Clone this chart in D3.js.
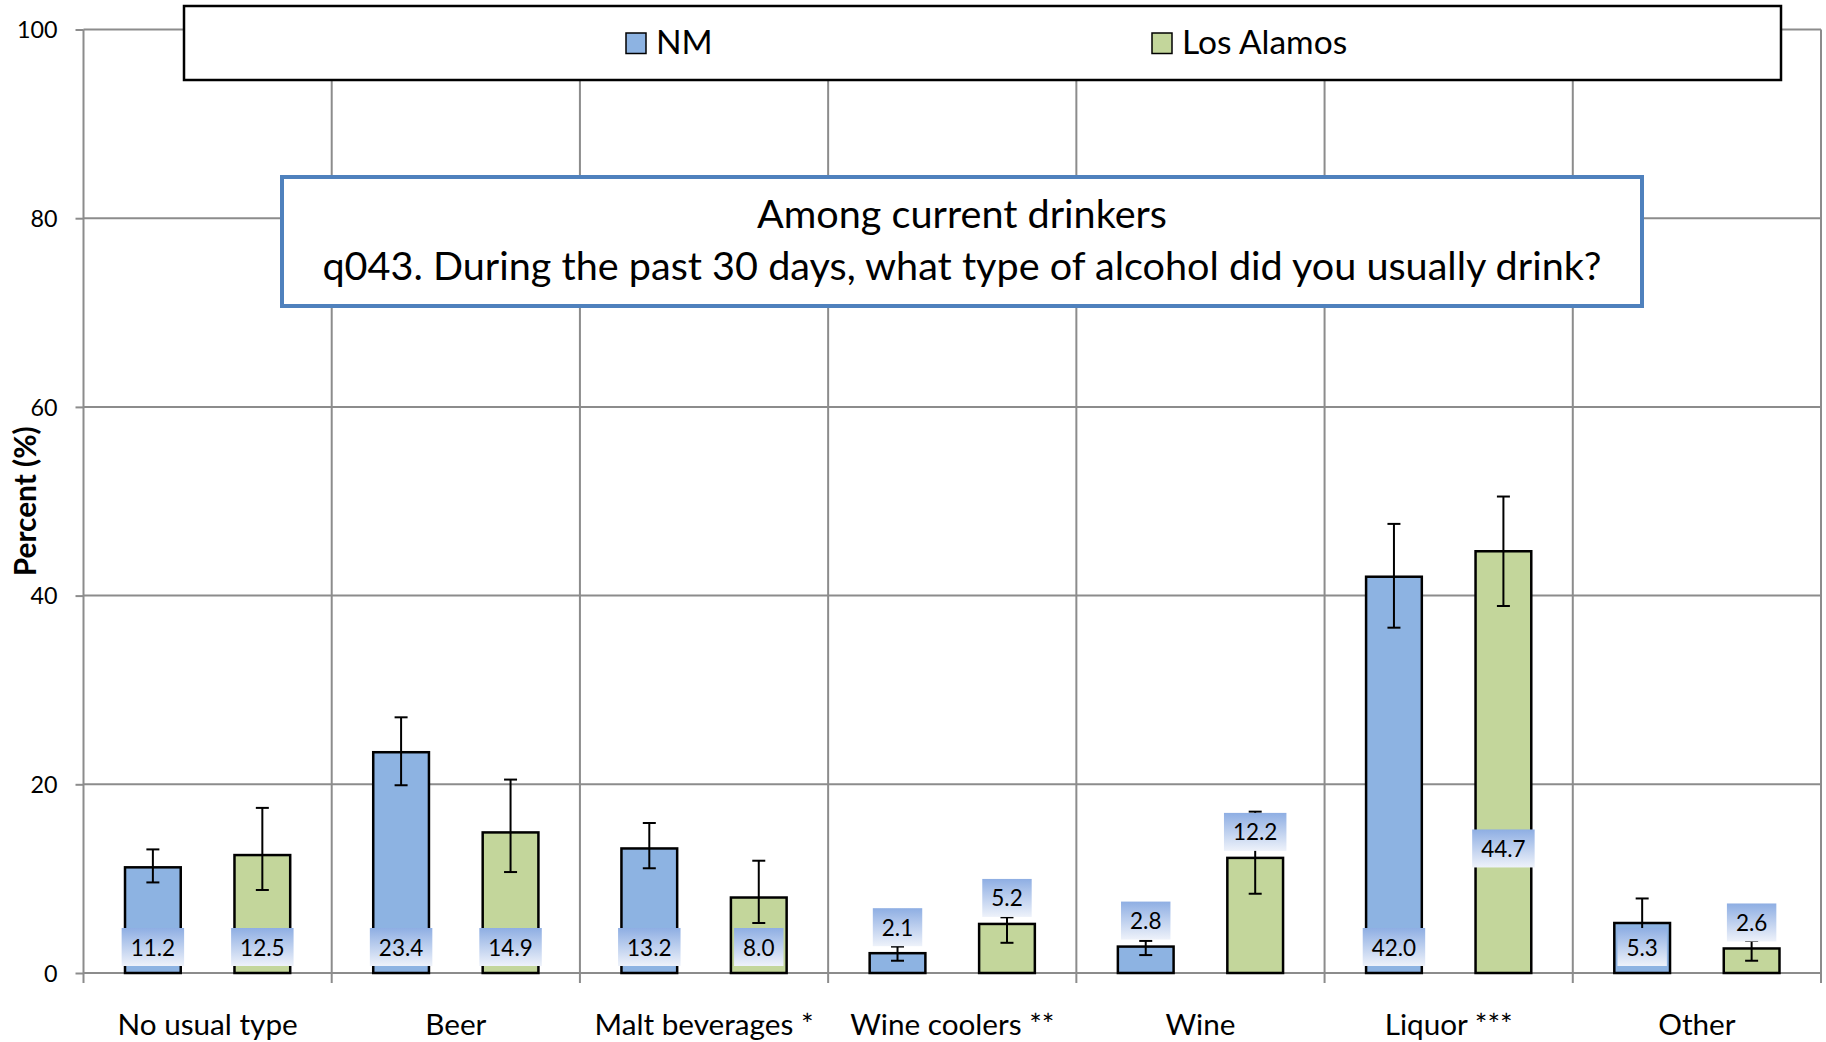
<!DOCTYPE html>
<html>
<head>
<meta charset="utf-8">
<script src="https://cdn.jsdelivr.net/npm/d3@7"></script>
<style>
  html, body { margin: 0; padding: 0; background: #ffffff; }
  svg { display: block; }
  text { font-family: Lato, "Open Sans", "Noto Sans", sans-serif; fill: #000; }
</style>
</head>
<body>
<svg id="chart" width="1826" height="1042"></svg>
<script>
// ---------------- data ----------------
const categories = ["No usual type", "Beer", "Malt beverages *", "Wine coolers **", "Wine", "Liquor ***", "Other"];
const seriesNames = ["NM", "Los Alamos"];
const nmValues = [11.2, 23.4, 13.2, 2.1, 2.8, 42.0, 5.3];
const laValues = [12.5, 14.9, 8.0, 5.2, 12.2, 44.7, 2.6];
const nmLower  = [9.6, 19.9, 11.1, 1.3, 1.9, 36.6, 2.7];
const nmUpper  = [13.1, 27.1, 15.9, 2.8, 3.4, 47.6, 7.9];
const laLower  = [8.8, 10.7, 5.3, 3.2, 8.4, 38.9, 1.3];
const laUpper  = [17.5, 20.5, 11.9, 5.9, 17.1, 50.5, 3.4];
const yTicks = [0, 20, 40, 60, 80, 100];
// label placement: "base" (inside base), "above" (outside end) or a value to centre on
const nmLabelPos = ["base", "base", "base", "above", "above", "base", "base"];
const laLabelPos = ["base", "base", "base", "above", "above", 13.2, "above"];
const titleLines = ["Among current drinkers", "q043. During the past 30 days, what type of alcohol did you usually drink?"];
const yTitle = "Percent (%)";

// ---------------- layout / style ----------------
const W = 1826, H = 1042;
const plot = { left: 83.5, right: 1821, top: 29.5, bottom: 973 };
const colors = { NM: "#8db3e2", LA: "#c3d69b" };
const gridColor = "#8c8c8c";

const svg = d3.select("#chart");

const x = d3.scaleBand().domain(categories).range([plot.left, plot.right]).paddingInner(0).paddingOuter(0);
const y = d3.scaleLinear().domain([0, 100]).range([plot.bottom, plot.top]);
const bw = x.bandwidth();
const barW = bw * 0.2245;
const series = [
  { key: "NM", values: nmValues, lo: nmLower, hi: nmUpper, pos: nmLabelPos, center: 0.2795, color: colors.NM },
  { key: "LA", values: laValues, lo: laLower, hi: laUpper, pos: laLabelPos, center: 0.7205, color: colors.LA }
];

// gradient for data labels
const defs = svg.append("defs");
const grad = defs.append("linearGradient").attr("id", "lblGrad").attr("x1", 0).attr("y1", 0).attr("x2", 0).attr("y2", 1);
grad.append("stop").attr("offset", "0%").attr("stop-color", "#8eaee3");
grad.append("stop").attr("offset", "100%").attr("stop-color", "#eef2fa");

// horizontal gridlines
svg.append("g").selectAll("line").data(yTicks).join("line")
  .attr("x1", plot.left).attr("x2", plot.right)
  .attr("y1", d => y(d)).attr("y2", d => y(d))
  .attr("stroke", gridColor).attr("stroke-width", 2);

// vertical category boundaries (extend below axis as tick marks)
const bounds = categories.map(c => x(c)).concat([plot.right]);
svg.append("g").selectAll("line").data(bounds).join("line")
  .attr("x1", d => d).attr("x2", d => d)
  .attr("y1", plot.top).attr("y2", plot.bottom + 10)
  .attr("stroke", gridColor).attr("stroke-width", 2);

// y axis
const yAxis = d3.axisLeft(y).tickValues(yTicks).tickSize(8).tickPadding(18).tickFormat(d3.format("d"));
const gy = svg.append("g").attr("transform", `translate(${plot.left},0)`).call(yAxis);
gy.select(".domain").remove();
gy.selectAll(".tick line").attr("stroke", gridColor).attr("stroke-width", 2);
gy.selectAll(".tick text").attr("font-size", 23.3).attr("font-family", "Lato").attr("fill", "#000").attr("dy", "0.36em");

// x axis labels
const xAxis = d3.axisBottom(x).tickSize(0).tickPadding(0);
const gx = svg.append("g").attr("transform", `translate(0,${plot.bottom})`).call(xAxis);
gx.select(".domain").remove();
gx.selectAll(".tick text").attr("font-size", 29.7).attr("font-family", "Lato").attr("fill", "#000").attr("dy", null).attr("y", 61.5);

// y title
svg.append("text")
  .attr("transform", `translate(36,${(plot.top + plot.bottom) / 2}) rotate(-90)`)
  .attr("text-anchor", "middle").attr("font-size", 29.8).attr("font-weight", "bold")
  .text(yTitle);

// bars
series.forEach(s => {
  const g = svg.append("g");
  g.selectAll("rect").data(categories).join("rect")
    .attr("x", (c) => x(c) + bw * s.center - barW / 2)
    .attr("y", (c, i) => y(s.values[i]))
    .attr("width", barW)
    .attr("height", (c, i) => y(0) - y(s.values[i]))
    .attr("fill", s.color).attr("stroke", "#000").attr("stroke-width", 2.5);
});

// error bars
series.forEach(s => {
  const g = svg.append("g").attr("stroke", "#000").attr("stroke-width", 2);
  categories.forEach((c, i) => {
    const cx = x(c) + bw * s.center;
    g.append("line").attr("x1", cx).attr("x2", cx).attr("y1", y(s.lo[i])).attr("y2", y(s.hi[i]));
    g.append("line").attr("x1", cx - 6.5).attr("x2", cx + 6.5).attr("y1", y(s.lo[i])).attr("y2", y(s.lo[i]));
    g.append("line").attr("x1", cx - 6.5).attr("x2", cx + 6.5).attr("y1", y(s.hi[i])).attr("y2", y(s.hi[i]));
  });
});

// data labels
const boxH = 38, gap = 7, padX = 9;
series.forEach(s => {
  categories.forEach((c, i) => {
    const cx = x(c) + bw * s.center;
    const v = s.values[i];
    const p = s.pos[i];
    let top;
    if (p === "base") top = y(0) - gap - boxH;
    else if (p === "above") top = y(v) - gap - boxH;
    else top = y(p) - boxH / 2;
    const g = svg.append("g");
    const rect = g.append("rect").attr("y", top).attr("height", boxH).attr("fill", "url(#lblGrad)");
    const t = g.append("text").attr("x", cx).attr("y", top + boxH / 2).attr("dy", "0.38em")
      .attr("text-anchor", "middle").attr("font-size", 22.5).text(d3.format(".1f")(v));
    const tw = t.node().getComputedTextLength();
    rect.attr("x", cx - tw / 2 - padX).attr("width", tw + 2 * padX);
  });
});

// title box
const tb = { x: 282, y: 177, w: 1360, h: 129 };
svg.append("rect").attr("x", tb.x).attr("y", tb.y).attr("width", tb.w).attr("height", tb.h)
  .attr("fill", "#fff").attr("stroke", "#4f81bd").attr("stroke-width", 4);
svg.append("text").attr("x", tb.x + tb.w / 2).attr("y", 228).attr("text-anchor", "middle")
  .attr("font-size", 39.6).text(titleLines[0]);
svg.append("text").attr("x", tb.x + tb.w / 2).attr("y", 280).attr("text-anchor", "middle")
  .attr("font-size", 39.6).text(titleLines[1]);

// legend
svg.append("rect").attr("x", 184).attr("y", 6).attr("width", 1597).attr("height", 74)
  .attr("fill", "#fff").attr("stroke", "#000").attr("stroke-width", 2.5);
const legendItems = [
  { name: seriesNames[0], color: colors.NM, sx: 626, tx: 656 },
  { name: seriesNames[1], color: colors.LA, sx: 1152, tx: 1182 }
];
legendItems.forEach(it => {
  svg.append("rect").attr("x", it.sx).attr("y", 33).attr("width", 20).attr("height", 20.5)
    .attr("fill", it.color).attr("stroke", "#000").attr("stroke-width", 1.5);
  svg.append("text").attr("x", it.tx).attr("y", 54)
    .attr("font-size", 33.5).text(it.name);
});
</script>
</body>
</html>
